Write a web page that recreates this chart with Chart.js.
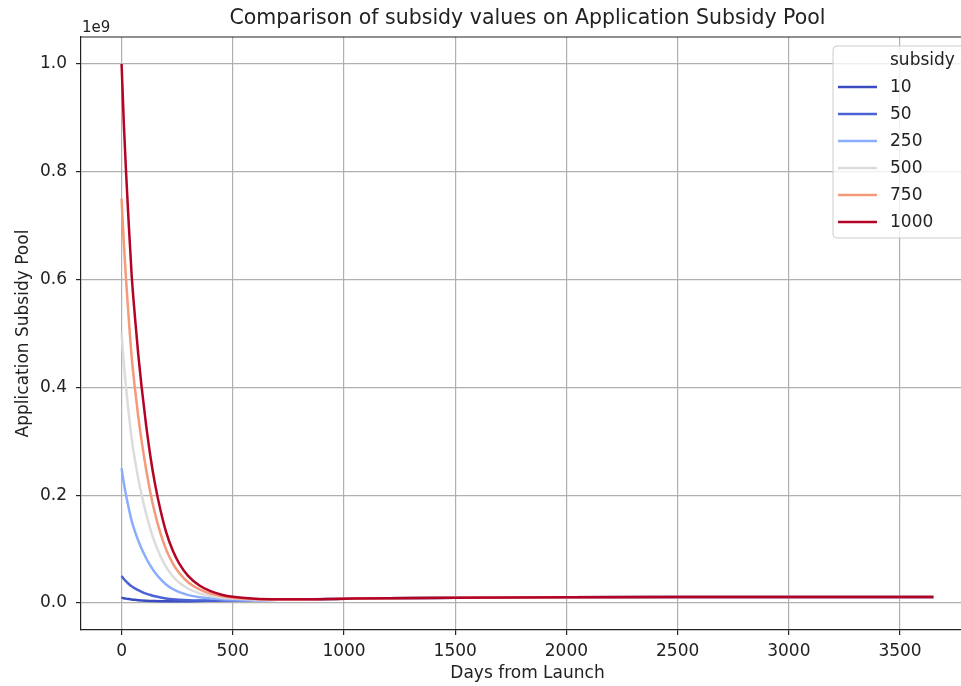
<!DOCTYPE html>
<html>
<head>
<meta charset="utf-8">
<script src="https://cdn.jsdelivr.net/npm/chart.js@4.4.1/dist/chart.umd.min.js"></script>
<style>
  html, body { margin: 0; padding: 0; background: #fff; overflow: hidden; }
  #wrap { width: 1000px; height: 686px; }
</style>
</head>
<body>
<div id="wrap"><canvas id="pool" width="1000" height="686"></canvas></div>
<script>
// days from launch
const days = [0, 10, 20, 30, 45, 60, 75, 90, 110, 130, 150, 175, 200, 230, 260, 300, 350, 400, 450, 500, 600, 700, 800, 1000, 1200, 1500, 2000, 2500, 3000, 3650];

// application subsidy pool, in millions
const sub10 = [10, 9.0, 8.2, 7.5, 6.55, 5.9, 5.35, 4.9, 4.4, 4.0, 3.7, 3.45, 3.3, 3.25, 3.3, 3.5, 3.8, 4.2, 4.6, 5.05, 5.5, 6.0, 6.5, 8, 9, 10, 10.8, 11, 11, 11];
const sub50 = [50, 44.6, 40.2, 36.3, 30.95, 27.1, 23.75, 20.9, 17.6, 14.8, 12.5, 10.25, 8.5, 7.05, 6.1, 5.35, 4.95, 4.9, 5.05, 5.3, 5.6, 6.05, 6.5, 8, 9, 10, 10.8, 11, 11, 11];
const sub250 = [250, 222.6, 200.2, 180.3, 152.95, 133.1, 115.75, 100.9, 83.6, 68.8, 56.5, 44.25, 34.5, 26.05, 20.1, 14.75, 10.75, 8.5, 7.25, 6.6, 6.1, 6.25, 6.6, 8, 9, 10, 10.8, 11, 11, 11];
const sub500 = [500, 445.1, 400.2, 360.3, 305.45, 265.6, 230.75, 200.9, 166.1, 136.3, 111.5, 86.75, 67, 49.8, 37.6, 26.5, 18, 13, 10, 8.25, 6.75, 6.5, 6.7, 8, 9, 10, 10.8, 11, 11, 11];
const sub750 = [750, 667.6, 600.2, 540.3, 457.9, 398.1, 345.8, 300.9, 248.6, 203.8, 166.5, 129.25, 99.5, 73.55, 55.1, 38.25, 25.25, 17.5, 12.75, 9.9, 7.4, 6.75, 6.8, 8, 9, 10, 10.8, 11, 11, 11];
const sub1000 = [1000, 890, 800, 720, 610, 531, 461, 401, 331, 271, 221.5, 172, 132, 97.3, 72.6, 50, 32.5, 22, 15.5, 11.5, 8, 7, 6.9, 8, 9, 10, 10.8, 11, 11, 11];

const subsidyLabels = ['10', '50', '250', '500', '750', '1000'];
const subsidySeries = [sub10, sub50, sub250, sub500, sub750, sub1000];
const subsidyColors = ['#3b4cc0', '#4a62d4', '#8aadfd', '#dcdcdc', '#f49a7b', '#b40426'];

const xTicks = [0, 500, 1000, 1500, 2000, 2500, 3000, 3500];
const yTicks = [0, 0.2e9, 0.4e9, 0.6e9, 0.8e9, 1.0e9];

Chart.defaults.font.family = "'DejaVu Sans', sans-serif";
Chart.defaults.font.size = 17;
Chart.defaults.color = '#222';

const datasets = subsidySeries.map((vals, i) => ({
  label: subsidyLabels[i],
  data: days.map((d, j) => ({ x: d, y: vals[j] * 1e6 })),
  borderColor: subsidyColors[i],
  backgroundColor: subsidyColors[i],
  borderWidth: 2.5,
  pointRadius: 0,
  cubicInterpolationMode: 'monotone',
  order: subsidySeries.length - i,
}));

// matplotlib style frame, offset text and legend
const extras = {
  id: 'extras',
  afterDraw(chart) {
    const { ctx, chartArea: a } = chart;
    ctx.save();
    ctx.strokeStyle = '#222';
    ctx.lineWidth = 1.2;
    ctx.beginPath();
    ctx.moveTo(a.left, a.top);
    ctx.lineTo(a.right, a.top);
    ctx.lineTo(a.right, a.bottom);
    ctx.stroke();

    ctx.fillStyle = '#222';
    ctx.font = "15px 'DejaVu Sans'";
    ctx.textAlign = 'left';
    ctx.textBaseline = 'alphabetic';
    ctx.fillText('1e9', a.left + 1, a.top - 5);

    // legend box
    const bx = 833, by = 46, bw = 136, bh = 192, r = 4;
    ctx.beginPath();
    ctx.moveTo(bx + r, by);
    ctx.arcTo(bx + bw, by, bx + bw, by + bh, r);
    ctx.arcTo(bx + bw, by + bh, bx, by + bh, r);
    ctx.arcTo(bx, by + bh, bx, by, r);
    ctx.arcTo(bx, by, bx + bw, by, r);
    ctx.closePath();
    ctx.fillStyle = 'rgba(255,255,255,0.8)';
    ctx.fill();
    ctx.strokeStyle = '#cccccc';
    ctx.lineWidth = 1;
    ctx.stroke();

    ctx.font = "17px 'DejaVu Sans'";
    ctx.textBaseline = 'middle';
    ctx.fillStyle = '#222';
    ctx.fillText('subsidy', 890, 61);
    chart.data.datasets.forEach((ds, i) => {
      const y = 87 + i * 27;
      ctx.strokeStyle = ds.borderColor;
      ctx.lineWidth = 2.5;
      ctx.beginPath();
      ctx.moveTo(838, y);
      ctx.lineTo(877, y);
      ctx.stroke();
      ctx.fillStyle = '#222';
      ctx.fillText(ds.label, 890, y + 1);
    });
    ctx.restore();
  }
};

new Chart(document.getElementById('pool'), {
  type: 'line',
  data: { datasets },
  plugins: [extras],
  options: {
    responsive: false,
    animation: false,
    layout: { padding: { left: 0, right: 26, top: 0, bottom: 0 } },
    plugins: {
      legend: { display: false },
      tooltip: { enabled: false },
      title: {
        display: true,
        fullSize: false,
        text: 'Comparison of subsidy values on Application Subsidy Pool',
        font: { size: 20.5, weight: 'normal' },
        color: '#222',
        padding: { top: 6, bottom: 6.4 },
      },
    },
    scales: {
      x: {
        type: 'linear',
        min: -182.5,
        max: 3832.5,
        afterBuildTicks: (s) => { s.ticks = xTicks.map(v => ({ value: v })); },
        afterFit: (s) => { s.height = 56; },
        ticks: { padding: 6, maxRotation: 0, callback: (v) => String(v) },
        grid: { color: '#b0b0b0', lineWidth: 1.2, tickColor: '#222', tickLength: 5 },
        border: { display: true, color: '#222', width: 1.2 },
        title: { display: true, text: 'Days from Launch', padding: { top: 2, bottom: 2 } },
      },
      y: {
        type: 'linear',
        min: -0.05e9,
        max: 1.05e9,
        afterBuildTicks: (s) => { s.ticks = yTicks.map(v => ({ value: v })); },
        afterFit: (s) => { s.width = 81; },
        ticks: { padding: 9, callback: (v) => (v / 1e9).toFixed(1) },
        grid: { color: '#b0b0b0', lineWidth: 1.2, tickColor: '#222', tickLength: 5 },
        border: { display: true, color: '#222', width: 1.2 },
        title: { display: true, text: 'Application Subsidy Pool', padding: { top: 13, bottom: 0 } },
      },
    },
  },
});
</script>
</body>
</html>
